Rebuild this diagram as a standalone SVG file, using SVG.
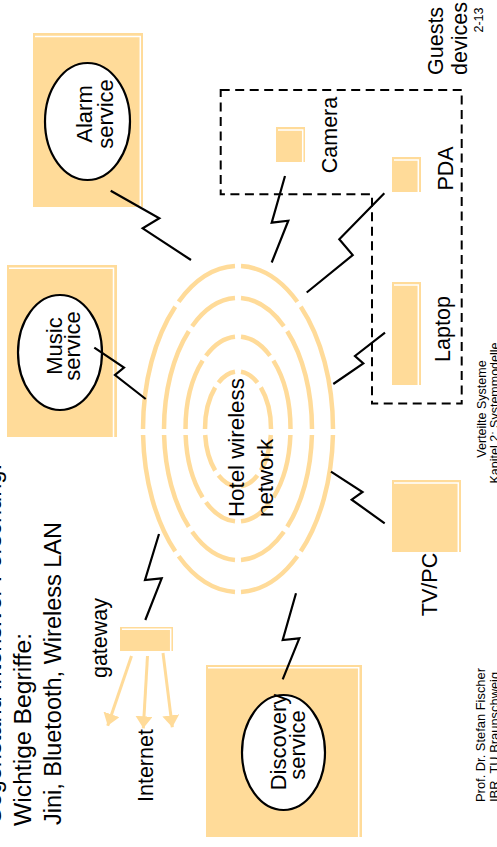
<svg xmlns="http://www.w3.org/2000/svg" width="497" height="847" viewBox="0 0 497 847">
<defs>
<style>
.t{font-family:"Liberation Sans",Arial,Helvetica,sans-serif;fill:#000}
.box{fill:#FFDB99}
.hl{fill:none;stroke:#fff;stroke-width:1.5}
.ell{fill:#fff;stroke:#000;stroke-width:2.2}
.zz{fill:none;stroke:#000;stroke-width:2.2;stroke-linejoin:miter}
.ring{fill:none;stroke:#FFDB99;stroke-width:4.5}
.arr{fill:none;stroke:#FFDB99;stroke-width:3}
</style>
<marker id="ah" viewBox="0 0 12 17" refX="12" refY="8.5" markerWidth="12" markerHeight="17" markerUnits="userSpaceOnUse" orient="auto">
<path d="M0,0 L12,8.5 L0,17 Z" fill="#FFDB99"/>
</marker>
</defs>
<rect width="497" height="847" fill="#fff"/>

<g id="title">
<text class="t" font-size="23" transform="translate(1,825) rotate(-90)" textLength="361" lengthAdjust="spacingAndGlyphs">Gegenstand intensiver Forschung:</text>
<text class="t" font-size="23" transform="translate(31,826) rotate(-90)" textLength="193" lengthAdjust="spacingAndGlyphs">Wichtige Begriffe:</text>
<text class="t" font-size="23" transform="translate(61,825) rotate(-90)" textLength="303" lengthAdjust="spacingAndGlyphs">Jini, Bluetooth, Wireless LAN</text>
</g>

<g id="hotel-network">
<path class="ring" d="M332.94,435 A95,163 0 0 1 300.77,551.35 M297.35,556.28 A95,163 0 0 1 241,591.92 M235,591.92 A95,163 0 0 1 178.65,556.28 M175.23,551.35 A95,163 0 0 1 143.06,435 M143,429 A95,163 0 0 1 175.23,306.65 M178.65,301.72 A95,163 0 0 1 235,266.08 M241,266.08 A95,163 0 0 1 297.35,301.72 M300.77,306.65 A95,163 0 0 1 333,429"/>
<path class="ring" d="M311.92,435 A74,131 0 0 1 287.22,526.82 M283.88,531.78 A74,131 0 0 1 241,559.89 M235,559.89 A74,131 0 0 1 192.12,531.78 M188.78,526.82 A74,131 0 0 1 164.08,435 M164,429 A74,131 0 0 1 188.78,331.18 M192.12,326.22 A74,131 0 0 1 235,298.11 M241,298.11 A74,131 0 0 1 283.88,326.22 M287.22,331.18 A74,131 0 0 1 312,429"/>
<path class="ring" d="M290.39,435 A52.5,92.5 0 0 1 273.39,497.32 M270.04,502.27 A52.5,92.5 0 0 1 240.99,521.35 M235.01,521.35 A52.5,92.5 0 0 1 205.96,502.27 M202.61,497.32 A52.5,92.5 0 0 1 185.61,435 M185.5,429 A52.5,92.5 0 0 1 202.61,360.68 M205.96,355.73 A52.5,92.5 0 0 1 235.01,336.65 M240.99,336.65 A52.5,92.5 0 0 1 270.04,355.73 M273.39,360.68 A52.5,92.5 0 0 1 290.5,429"/>
<path class="ring" d="M270.82,435 A33,57.5 0 0 1 260.84,470.49 M257.47,475.43 A33,57.5 0 0 1 241,486.26 M235,486.26 A33,57.5 0 0 1 218.53,475.43 M215.16,470.49 A33,57.5 0 0 1 205.18,435 M205,429 A33,57.5 0 0 1 215.16,387.51 M218.53,382.57 A33,57.5 0 0 1 235,371.74 M241,371.74 A33,57.5 0 0 1 257.47,382.57 M260.84,387.51 A33,57.5 0 0 1 271,429"/>
<text class="t" font-size="22.3" transform="translate(244,517) rotate(-90)">Hotel wireless</text>
<text class="t" font-size="22.3" transform="translate(273.3,517) rotate(-90)">network</text>
</g>

<g id="alarm-service">
<rect class="box" x="33" y="33" width="110" height="174"/>
<path class="hl" d="M35,36.5 H140.3 V207"/>
<ellipse class="ell" cx="87.5" cy="121.5" rx="42.5" ry="58.5"/>
<text class="t" font-size="22" text-anchor="middle" transform="translate(92,114) rotate(-90)">Alarm</text>
<text class="t" font-size="22" text-anchor="middle" transform="translate(113.3,114) rotate(-90)">service</text>
</g>

<g id="music-service">
<rect class="box" x="7" y="265" width="110" height="172"/>
<path class="hl" d="M9,268.3 H113.5 V437"/>
<ellipse class="ell" cx="60" cy="352.5" rx="42" ry="57.5"/>
<text class="t" font-size="22" text-anchor="middle" transform="translate(61.7,346) rotate(-90)">Music</text>
<text class="t" font-size="22" text-anchor="middle" transform="translate(80,346) rotate(-90)">service</text>
</g>

<g id="discovery-service">
<rect class="box" x="206" y="665" width="156" height="172"/>
<path class="hl" d="M208,667.7 H358.7 V837"/>
<ellipse class="ell" cx="283.5" cy="752.5" rx="41.5" ry="57.5"/>
<text class="t" font-size="22" text-anchor="middle" transform="translate(285.5,742) rotate(-90)">Discovery</text>
<text class="t" font-size="22" text-anchor="middle" transform="translate(305,745) rotate(-90)">service</text>
</g>

<g id="gateway">
<rect class="box" x="120" y="627" width="53" height="24"/>
<path class="hl" d="M122,629.3 H170.7 V651"/>
<text class="t" font-size="21.5" text-anchor="middle" transform="translate(106.5,638) rotate(-90)">gateway</text>
</g>

<g id="internet">
<text class="t" font-size="21.5" transform="translate(153,802) rotate(-90)">Internet</text>
</g>

<g id="guests-devices">
<path d="M220.7,90 H461.7 V403.5 H372 V194.3 H220.7 Z" fill="none" stroke="#000" stroke-width="2" stroke-dasharray="9 5.5"/>
<text class="t" font-size="21.5" transform="translate(443,75) rotate(-90)">Guests</text>
<text class="t" font-size="21.5" transform="translate(467,75) rotate(-90)">devices</text>
</g>

<g id="camera">
<rect class="box" x="276" y="127" width="29" height="35"/>
<path class="hl" d="M278,130 H302.7 V162"/>
<text class="t" font-size="21.5" text-anchor="middle" transform="translate(337,135) rotate(-90)">Camera</text>
</g>

<g id="pda">
<rect class="box" x="392" y="157" width="29" height="35"/>
<path class="hl" d="M394,160 H418.3 V192"/>
<text class="t" font-size="21.5" text-anchor="middle" transform="translate(453,168.5) rotate(-90)">PDA</text>
</g>

<g id="laptop">
<rect class="box" x="392" y="282" width="29" height="103"/>
<path class="hl" d="M394,285 H418.3 V385"/>
<text class="t" font-size="21.5" text-anchor="middle" transform="translate(450,329) rotate(-90)">Laptop</text>
</g>

<g id="tvpc">
<rect class="box" x="392" y="480" width="69" height="72"/>
<path class="hl" d="M394,483 H458.3 V552"/>
<text class="t" font-size="21.5" text-anchor="middle" transform="translate(437,584.5) rotate(-90)">TV/PC</text>
</g>

<g id="connectors">
<polyline class="zz" points="110.7,190.7 159.3,218.3 142.7,228.3 191,260"/>
<polyline class="zz" points="94.3,347.7 124,367.7 115,375 145.7,399"/>
<polyline class="zz" points="285,176 271.7,222.7 288.3,220.7 271.7,262.5"/>
<polyline class="zz" points="384.3,193.3 339.3,239.3 352.7,255 306.7,292.5"/>
<polyline class="zz" points="385,332.7 355,356 363.3,363.3 333.3,384"/>
<polyline class="zz" points="331,471.7 362.5,492 351.7,499.7 384.7,523.3"/>
<polyline class="zz" points="159,534 145,580 161.7,578.3 145.3,620"/>
<polyline class="zz" points="296,593.3 282.7,640 299.3,638.3 282.7,679.3"/>
<line class="arr" x1="131.5" y1="656" x2="107.7" y2="725.7" marker-end="url(#ah)"/>
<line class="arr" x1="147.5" y1="656" x2="143.3" y2="728.3" marker-end="url(#ah)"/>
<line class="arr" x1="163" y1="653" x2="172.3" y2="727.3" marker-end="url(#ah)"/>
</g>

<g id="footer">
<text class="t" font-size="12.5" text-anchor="middle" transform="translate(483,20) rotate(-90)">2-13</text>
<text class="t" font-size="12.5" text-anchor="middle" transform="translate(485.5,409) rotate(-90)">Verteilte Systeme</text>
<text class="t" font-size="12.5" text-anchor="middle" transform="translate(499,413) rotate(-90)">Kapitel 2: Systemmodelle</text>
<text class="t" font-size="12.9" transform="translate(485,802) rotate(-90)">Prof. Dr. Stefan Fischer</text>
<text class="t" font-size="12.9" transform="translate(499,802) rotate(-90)">IBR, TU Braunschweig</text>
</g>
</svg>
